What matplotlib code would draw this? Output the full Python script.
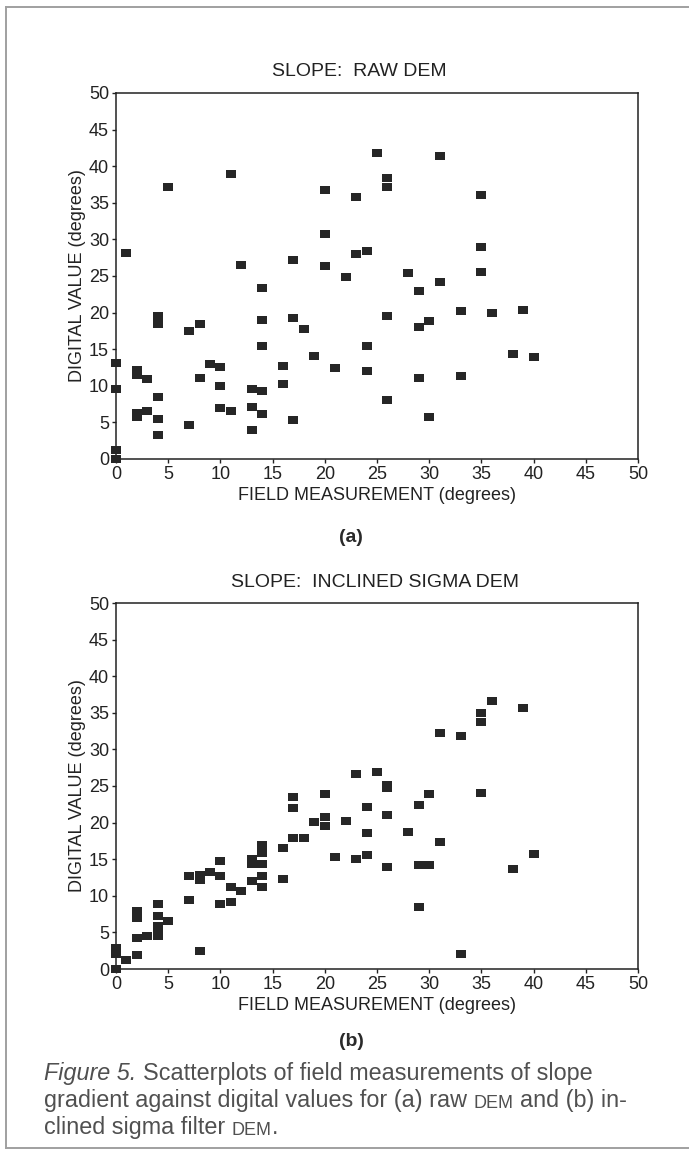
import matplotlib
matplotlib.use('Agg')
import matplotlib.pyplot as plt
from matplotlib.lines import Line2D

plt.rcParams['font.family'] = ['Liberation Sans', 'DejaVu Sans']

# (a) slope from the raw DEM: field measurement vs digital value (degrees)
raw_field = [0, 0, 0, 0, 1, 2, 2, 2, 2, 3, 3, 4, 4, 4, 4, 4, 5, 7, 7, 8, 8, 9, 10, 10, 10,
             11, 11, 12, 13, 13, 13, 14, 14, 14, 14, 14, 16, 16, 17, 17, 17, 18, 19, 20, 20,
             20, 21, 22, 23, 23, 24, 24, 24, 25, 26, 26, 26, 26, 28, 29, 29, 29, 30, 30, 31,
             31, 33, 33, 35, 35, 35, 36, 38, 39, 40]
raw_digital = [0, 1.2, 9.6, 13.1, 28.1, 12.1, 11.5, 6.3, 5.8, 10.9, 6.5, 19.6, 18.5, 8.5, 5.5,
               3.3, 37.1, 17.5, 4.7, 18.5, 11.1, 13.0, 12.5, 10.0, 6.9, 39.0, 6.6, 26.5, 9.6,
               7.1, 4.0, 23.3, 19.0, 15.4, 9.3, 6.2, 12.7, 10.2, 27.2, 19.2, 5.3, 17.8, 14.1,
               36.8, 30.7, 26.3, 12.4, 24.8, 35.8, 28.0, 28.4, 15.5, 12.0, 41.8, 38.4, 37.1,
               19.5, 8.0, 25.4, 23.0, 18.1, 11.0, 18.8, 5.8, 41.4, 24.2, 20.2, 11.4, 36.0,
               29.0, 25.6, 19.9, 14.3, 20.3, 14.0]

# (b) slope from the inclined sigma filter DEM
sig_field = [0, 0, 0, 1, 2, 2, 2, 2, 3, 4, 4, 4, 4, 4, 5, 7, 7, 8, 8, 8, 9, 10, 10, 10, 11,
             11, 12, 13, 13, 13, 14, 14, 14, 14, 14, 16, 16, 17, 17, 17, 18, 19, 20, 20, 20,
             21, 22, 23, 23, 24, 24, 24, 25, 26, 26, 26, 26, 28, 29, 29, 29, 30, 30, 31, 31,
             33, 33, 35, 35, 35, 36, 38, 39, 40]
sig_digital = [0, 2.1, 2.9, 1.2, 1.9, 4.3, 7.0, 7.9, 4.5, 4.5, 5.2, 5.9, 7.2, 8.9, 6.5, 12.7,
               9.4, 12.9, 12.2, 2.4, 13.3, 14.8, 12.7, 8.9, 11.2, 9.2, 10.7, 15.0, 14.3, 12.0,
               16.9, 15.9, 14.3, 12.7, 11.2, 16.5, 12.3, 23.5, 22.0, 17.9, 17.9, 20.1, 20.7,
               19.5, 23.9, 15.3, 20.2, 26.6, 15.0, 22.1, 18.6, 15.6, 26.9, 25.2, 24.7, 21.0,
               14.0, 18.7, 22.4, 14.2, 8.5, 23.9, 14.2, 32.2, 17.4, 31.8, 2.1, 35.0, 33.8,
               24.1, 36.6, 13.7, 35.6, 15.7]

titles = ['SLOPE:  RAW DEM', 'SLOPE:  INCLINED SIGMA DEM']
panel_tags = ['(a)', '(b)']
ticks = list(range(0, 51, 5))

W, H = 689, 1156
ink = '#222222'


def fig_box(left, top, right, bottom):
    # pixel box -> figure fraction [l, b, w, h]
    return [left / W, 1 - bottom / H, (right - left) / W, (bottom - top) / H]


fig = plt.figure(figsize=(W / 100, H / 100), dpi=100)

# flat rectangular marker like the original plotter output
rect = [(-1.45, -1), (1.45, -1), (1.45, 1), (-1.45, 1), (-1.45, -1)]

panels = [
    (raw_field, raw_digital, (116, 93, 638, 459), 359, 72, 537),
    (sig_field, sig_digital, (116, 603, 638, 969), 375, 582, 1042),
]

for i, (xs, ys, box, title_x, title_y, tag_y) in enumerate(panels):
    ax = fig.add_axes(fig_box(*box))
    ax.scatter(xs, ys, marker=rect, s=60, c='#262626', linewidths=0,
               clip_on=False, zorder=3)
    ax.set_xlim(0, 50)
    ax.set_ylim(0, 50)
    ax.set_xticks(ticks)
    ax.set_yticks(ticks)
    ax.tick_params(direction='out', length=3, width=1, pad=2, labelsize=13,
                   colors=ink)
    for sp in ax.spines.values():
        sp.set_linewidth(1.1)
        sp.set_color(ink)
    ax.set_xlabel('FIELD MEASUREMENT (degrees)', fontsize=13, color=ink, labelpad=3)
    ax.set_ylabel('DIGITAL VALUE (degrees)', fontsize=13, color=ink, labelpad=2)
    fig.text(title_x / W, 1 - title_y / H, titles[i], fontsize=14, color=ink,
             ha='center', va='center')
    fig.text(351 / W, 1 - tag_y / H, panel_tags[i], fontsize=14, fontweight='bold',
             color='#2a2a2a', ha='center', va='center')

# caption, built piece by piece (italic lead-in, small caps DEM)
ov = fig.add_axes([0, 0, 1, 1], zorder=-1)
ov.set_axis_off()
ov.set_xlim(0, 1)
ov.set_ylim(0, 1)

cap_color = '#505050'
cap_size = 16.8
small_size = 13
space = 0.28 * cap_size

caption = [
    (1085, [('Figure 5.', 'italic', cap_size, 0),
            ('Scatterplots of field measurements of slope', 'normal', cap_size, space)]),
    (1112, [('gradient against digital values for (a) raw', 'normal', cap_size, 0),
            ('DEM', 'normal', small_size, space),
            ('and (b) in-', 'normal', cap_size, space)]),
    (1139, [('clined sigma filter', 'normal', cap_size, 0),
            ('DEM', 'normal', small_size, space),
            ('.', 'normal', cap_size, 0)]),
]

for y_px, pieces in caption:
    prev = None
    for txt, style, size, gap in pieces:
        kw = dict(fontsize=size, style=style, color=cap_color, ha='left', va='bottom')
        if prev is None:
            prev = ov.text(44 / W, 1 - y_px / H, txt, **kw)
        else:
            prev = ov.annotate(txt, xy=(1, 0), xycoords=prev, xytext=(gap, 0),
                               textcoords='offset points', **kw)

# thin page frame (left, top, bottom edges)
frame = dict(color='#a0a0a0', linewidth=1.4, transform=fig.transFigure)
fig.add_artist(Line2D([6 / W, 6 / W], [1 - 7 / H, 1 - 1148 / H], **frame))
fig.add_artist(Line2D([6 / W, 1], [1 - 7 / H, 1 - 7 / H], **frame))
fig.add_artist(Line2D([6 / W, 1], [1 - 1148 / H, 1 - 1148 / H], **frame))

fig.savefig('out.png', dpi=100, facecolor='white')
